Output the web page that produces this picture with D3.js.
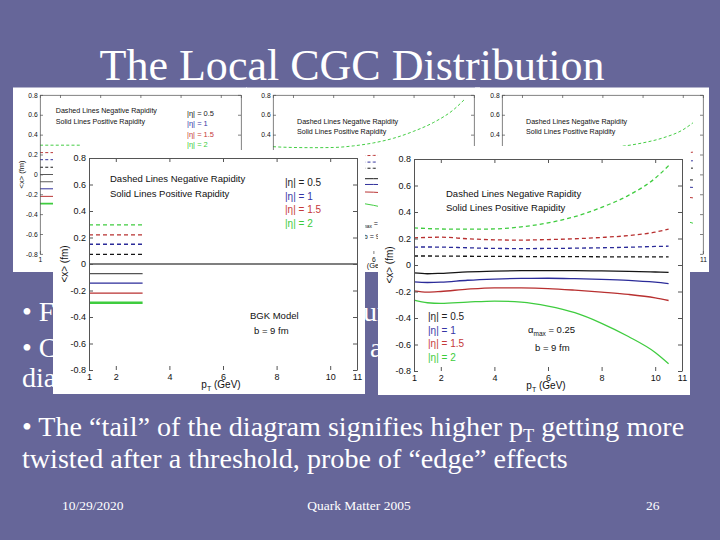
<!DOCTYPE html>
<html><head><meta charset="utf-8">
<script src="https://cdn.jsdelivr.net/npm/d3@7"></script>
<style>body{margin:0;background:#666699}svg{display:block}</style>
</head><body>
<script>
// ---------------- data ----------------
const pT = [1, 1.5, 2, 3, 4, 5, 6, 7, 8, 9, 10, 10.5];
// alpha_max = 0.25 model (front-right and back-middle)
const negEta05 = [0.068, 0.068, 0.067, 0.066, 0.065, 0.064, 0.063, 0.063, 0.062, 0.062, 0.062, 0.062];
const negEta1  = [0.135, 0.136, 0.135, 0.130, 0.125, 0.124, 0.125, 0.127, 0.130, 0.134, 0.140, 0.142];
const negEta15 = [0.205, 0.208, 0.210, 0.198, 0.190, 0.188, 0.192, 0.198, 0.208, 0.222, 0.248, 0.270];
const negEta2  = [0.280, 0.275, 0.272, 0.270, 0.272, 0.288, 0.318, 0.365, 0.435, 0.525, 0.655, 0.750];
const posEta05 = [-0.060, -0.066, -0.063, -0.052, -0.046, -0.043, -0.042, -0.043, -0.045, -0.048, -0.053, -0.056];
const posEta1  = [-0.128, -0.132, -0.130, -0.115, -0.106, -0.101, -0.100, -0.103, -0.108, -0.116, -0.130, -0.140];
const posEta15 = [-0.195, -0.205, -0.200, -0.182, -0.172, -0.173, -0.178, -0.190, -0.205, -0.222, -0.248, -0.268];
const posEta2  = [-0.265, -0.285, -0.290, -0.280, -0.272, -0.280, -0.310, -0.360, -0.440, -0.540, -0.660, -0.745];
// milder model (back-right panel)
const negB05 = [0.066, 0.066, 0.065, 0.064, 0.064, 0.063, 0.063, 0.063, 0.063, 0.063, 0.064, 0.064];
const negB1  = [0.133, 0.134, 0.133, 0.129, 0.126, 0.125, 0.125, 0.126, 0.128, 0.131, 0.135, 0.138];
const negB15 = [0.200, 0.203, 0.204, 0.195, 0.188, 0.185, 0.186, 0.189, 0.195, 0.203, 0.215, 0.225];
const negB2  = [0.270, 0.266, 0.263, 0.260, 0.258, 0.260, 0.268, 0.285, 0.318, 0.368, 0.450, 0.520];
const posB05 = [-0.062, -0.066, -0.064, -0.055, -0.050, -0.047, -0.046, -0.047, -0.048, -0.050, -0.053, -0.055];
const posB1  = [-0.128, -0.131, -0.130, -0.118, -0.110, -0.106, -0.105, -0.107, -0.111, -0.117, -0.125, -0.130];
const posB15 = [-0.195, -0.202, -0.200, -0.186, -0.177, -0.176, -0.179, -0.186, -0.196, -0.208, -0.224, -0.235];
const posB2  = [-0.262, -0.280, -0.282, -0.272, -0.265, -0.268, -0.282, -0.310, -0.350, -0.400, -0.460, -0.490];
// BGK model (front-left and back-left)
const bgkPt = [1, 3];
const bgkNeg = [0.073, 0.149, 0.220, 0.295];
const bgkPos = [-0.073, -0.144, -0.220, -0.293];
const zeroPt = [1, 11];
const zeroVal = [0, 0];

const etaLabels = ["|η| = 0.5", "|η| = 1", "|η| = 1.5", "|η| = 2"];
const xTicks = [1, 2, 4, 6, 8, 10, 11];
const yTicks = [-0.8, -0.6, -0.4, -0.2, 0, 0.2, 0.4, 0.6, 0.8];

// ---------------- styles ----------------
const lineCols = ["#151515", "#2b2b99", "#b83030", "#3fcc3f"];
const textCols = ["#222222", "#3535a5", "#c53a3a", "#3ccc3c"];
const SANS = "'Liberation Sans', Arial, sans-serif";
const SERIF = "'Liberation Serif', Tinos, 'Times New Roman', 'DejaVu Serif', serif";

const W = 720, H = 540;
const svg = d3.select("body").append("svg").attr("width", W).attr("height", H);
svg.append("rect").attr("width", W).attr("height", H).attr("fill", "#666699");

const PW = 312, PH = 246, PL = 36, PTOP = 10, PIW = 268, PIH = 212;
const fmt = d => d === 0 ? "0" : d3.format(".1f")(d).replace("\u2212", "-");

function makeSeries(xs, negs, poss) {
  const out = [];
  negs.forEach((v, i) => out.push({x: xs, y: v, color: lineCols[i], dashed: true}));
  poss.forEach((v, i) => out.push({x: xs, y: v, color: lineCols[i], dashed: false}));
  return out;
}

function drawPanel(px, py, s, series, annot, rectTop) {
  rectTop = rectTop || 0;
  const g = svg.append("g").attr("transform", `translate(${px},${py}) scale(${s})`);
  g.append("rect").attr("y", rectTop).attr("width", PW).attr("height", PH - rectTop).attr("fill", "#ffffff");
  const xS = d3.scaleLinear().domain([1, 11]).range([PL, PL + PIW]);
  const yS = d3.scaleLinear().domain([-0.8, 0.8]).range([PTOP + PIH, PTOP]);
  const line = d3.line().x(d => xS(d[0])).y(d => yS(d[1])).curve(d3.curveMonotoneX);
  series.forEach(sr => {
    g.append("path").attr("d", line(d3.zip(sr.x, sr.y)))
      .attr("fill", "none").attr("stroke", sr.color)
      .attr("stroke-width", sr.width || 1.3)
      .attr("stroke-dasharray", sr.dashed ? "4,3" : null);
  });
  const axStyle = a => {
    a.selectAll(".domain").attr("stroke", "#555");
    a.selectAll(".tick line").attr("stroke", "#555");
    a.selectAll("text").attr("font-family", SANS).attr("font-size", 9).attr("fill", "#111");
  };
  g.append("g").attr("transform", `translate(${PL},0)`)
    .call(d3.axisLeft(yS).tickValues(yTicks).tickSizeInner(-4).tickSizeOuter(0).tickPadding(3).tickFormat(fmt))
    .call(axStyle);
  g.append("g").attr("transform", `translate(${PL + PIW},0)`)
    .call(d3.axisRight(yS).tickValues(yTicks).tickSizeInner(-4).tickSizeOuter(0).tickFormat(""))
    .call(axStyle);
  g.append("g").attr("transform", `translate(0,${PTOP})`)
    .call(d3.axisTop(xS).tickValues(xTicks).tickSizeInner(-4).tickSizeOuter(0).tickFormat(""))
    .call(axStyle);
  const bx = g.append("g").attr("transform", `translate(0,${PTOP + PIH})`)
    .call(d3.axisBottom(xS).tickValues(xTicks).tickSizeInner(-4).tickSizeOuter(0).tickPadding(4).tickFormat(d3.format("d")))
    .call(axStyle);
  bx.select(".domain").remove();
  g.append("text").attr("transform", `translate(11,${PTOP + PIH / 2}) rotate(-90)`)
    .attr("text-anchor", "middle").attr("dy", "0.35em")
    .attr("font-family", SANS).attr("font-size", 10).attr("fill", "#111").text("<x> (fm)");
  const xl = g.append("text").attr("x", 168).attr("y", 240).attr("text-anchor", "middle")
    .attr("font-family", SANS).attr("font-size", 10).attr("fill", "#111");
  xl.append("tspan").text("p");
  xl.append("tspan").attr("font-size", 7).attr("dy", 3).text("T");
  xl.append("tspan").attr("dy", -3).text(" (GeV)");
  annot(g);
  return g;
}

function txt(g, x, y, t, col, size) {
  return g.append("text").attr("x", x).attr("y", y).attr("font-family", SANS)
    .attr("font-size", size || 9.5).attr("fill", col || "#111").text(t);
}

function annotBGK(g) {
  txt(g, 57, 34, "Dashed Lines Negative Rapidity");
  txt(g, 57, 49, "Solid Lines Positive Rapidity");
  etaLabels.forEach((l, i) => txt(g, 232, 38 + i * 13.7, l, textCols[i], 10));
  txt(g, 197, 171, "BGK Model");
  txt(g, 201, 186, "b = 9 fm");
}
function annotCGC(alphaText) {
  return function (g) {
    txt(g, 68, 48, "Dashed Lines Negative Rapidity");
    txt(g, 68, 62, "Solid Lines Positive Rapidity");
    etaLabels.forEach((l, i) => txt(g, 50, 171 + i * 13.5, l, textCols[i], 10));
    const a = g.append("text").attr("x", 150).attr("y", 184).attr("font-family", SANS)
      .attr("font-size", 9.5).attr("fill", "#111");
    a.append("tspan").text("α");
    a.append("tspan").attr("font-size", 6.5).attr("dy", 3).text("max");
    a.append("tspan").attr("dy", -3).text(" = " + alphaText);
    txt(g, 157, 202, "b = 9 fm");
  };
}

const bgkSeries = [{x: zeroPt, y: zeroVal, color: "#555", dashed: false, width: 1.3}]
  .concat(makeSeries(bgkPt, bgkNeg.map(v => [v, v]), bgkPos.map(v => [v, v])));
bgkSeries[5].color = "#555";
bgkSeries[8].width = 2.6;
const cgcSeries = makeSeries(pT, [negEta05, negEta1, negEta15, negEta2], [posEta05, posEta1, posEta15, posEta2]);
const cgcBSeries = makeSeries(pT, [negB05, negB1, negB15, negB2], [posB05, posB1, posB15, posB2]);

// back panels (scaled copies)
const back = [
  drawPanel(13, 87.5, 0.75, bgkSeries, annotBGK),
  drawPanel(246, 87.5, 0.75, cgcSeries, annotCGC("0.25")),
  drawPanel(475, 87.5, 0.75, cgcBSeries, annotCGC("0.15"))
];

// slide text (partly hidden behind front panels)
function stxt(x, y, t, size) {
  return svg.append("text").attr("x", x).attr("y", y).attr("font-family", SERIF)
    .attr("font-size", size).attr("fill", "#ffffff").text(t);
}
// fit body font size from the last body line's width in the reference
const probe = stxt(22, 468, "twisted after a threshold, probe of “edge” effects", 26);
const BODY = 26 * 546 / probe.node().getComputedTextLength();
probe.attr("font-size", BODY);

stxt(22, 321, "• F", BODY);
stxt(363, 321, "ur", BODY);
stxt(22, 357, "• C", BODY);
stxt(370, 357, "a", BODY);
stxt(22, 387, "diag", BODY);

// front panels
const frontRects = [[53, 150, 366, 395], [378, 146, 690, 395]];
drawPanel(53, 148, 1, bgkSeries, annotBGK, 2);
drawPanel(378, 149, 1, cgcSeries, annotCGC("0.25"), -3);

// drop back-panel texts that are fully covered by the front panels
back.forEach(g => g.selectAll("text").each(function () {
  const b = this.getBoundingClientRect();
  const covered = frontRects.some(r => b.left >= r[0] && b.right <= r[2] && b.top >= r[1] && b.bottom <= r[3]);
  if (covered) d3.select(this).remove();
}));

// title
const title = svg.append("text").attr("x", 352).attr("y", 80).attr("text-anchor", "middle")
  .attr("font-family", SERIF).attr("font-size", 44).attr("fill", "#ffffff")
  .text("The Local CGC Distribution");
title.attr("font-size", 44 * 505 / title.node().getComputedTextLength());

// body line with subscript
const l4 = svg.append("text").attr("x", 22).attr("y", 436).attr("font-family", SERIF)
  .attr("font-size", BODY).attr("fill", "#ffffff");
l4.append("tspan").text("• The “tail” of the diagram signifies higher p");
l4.append("tspan").attr("font-size", BODY * 0.65).attr("dy", 6).text("T");
l4.append("tspan").attr("dy", -6).text(" getting more");

// footer
stxt(62, 510, "10/29/2020", 13.5);
stxt(359, 510, "Quark Matter 2005", 13.5).attr("text-anchor", "middle");
stxt(646, 510, "26", 13.5);
</script>
</body></html>
